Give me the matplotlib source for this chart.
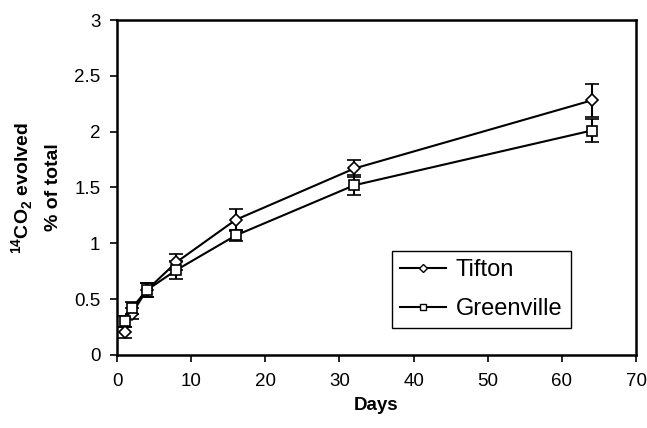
import matplotlib
matplotlib.use("Agg")
import matplotlib.pyplot as plt
from matplotlib.lines import Line2D

plt.rcParams["font.family"] = ["Liberation Sans", "DejaVu Sans"]
plt.rcParams["mathtext.fontset"] = "custom"
plt.rcParams["mathtext.rm"] = "Liberation Sans:bold"
plt.rcParams["mathtext.bf"] = "Liberation Sans:bold"

days = [1, 2, 4, 8, 16, 32, 64]
tifton = [0.20, 0.37, 0.58, 0.83, 1.21, 1.67, 2.28]
tifton_err = [0.05, 0.05, 0.06, 0.07, 0.10, 0.08, 0.15]
greenville = [0.30, 0.42, 0.58, 0.76, 1.07, 1.52, 2.01]
greenville_err = [0.05, 0.05, 0.06, 0.08, 0.05, 0.09, 0.10]

fig = plt.figure(figsize=(6.47, 4.28), dpi=100)
ax = fig.add_axes([0.181, 0.171, 0.802, 0.782])

common = dict(color="black", lw=1.5, capsize=4.7, capthick=1.5, elinewidth=1.5,
              markerfacecolor="white", markeredgecolor="black", markeredgewidth=1.2)
ax.errorbar(days, tifton, yerr=tifton_err, marker="D", markersize=6, **common)
ax.errorbar(days, greenville, yerr=greenville_err, marker="s", markersize=6.5, **common)

ax.set_xlim(0, 70)
ax.set_ylim(0, 3)
ax.set_xticks(range(0, 71, 10))
ax.set_yticks([0, 0.5, 1, 1.5, 2, 2.5, 3])
ax.set_yticklabels(["0", "0.5", "1", "1.5", "2", "2.5", "3"])
ax.tick_params(direction="out", length=5, width=1.2, labelsize=13.5)
ax.tick_params(axis="x", pad=8)
ax.tick_params(axis="y", pad=7)
for s in ax.spines.values():
    s.set_linewidth(1.8)

ax.set_xlabel("Days", fontsize=13.5, fontweight="bold", labelpad=5)
ax.set_ylabel("$^{14}$CO$_{2}$ evolved\n% of total", fontsize=14,
              fontweight="bold", labelpad=9, linespacing=1.75)

handles = [
    Line2D([], [], color="black", lw=1.5, marker="D", markersize=4.5,
           markerfacecolor="white", markeredgecolor="black", markeredgewidth=1.0),
    Line2D([], [], color="black", lw=1.5, marker="s", markersize=5,
           markerfacecolor="white", markeredgecolor="black", markeredgewidth=1.0),
]
leg = ax.legend(handles, ["Tifton", "Greenville"], loc="lower left",
                bbox_to_anchor=(0.530, 0.080), fontsize=17, fancybox=False,
                edgecolor="black", framealpha=1, handlelength=1.95,
                handletextpad=0.4, borderpad=0.35, labelspacing=0.7,
                borderaxespad=0)
leg.get_frame().set_linewidth(1.0)

fig.savefig("out.png", dpi=100)
